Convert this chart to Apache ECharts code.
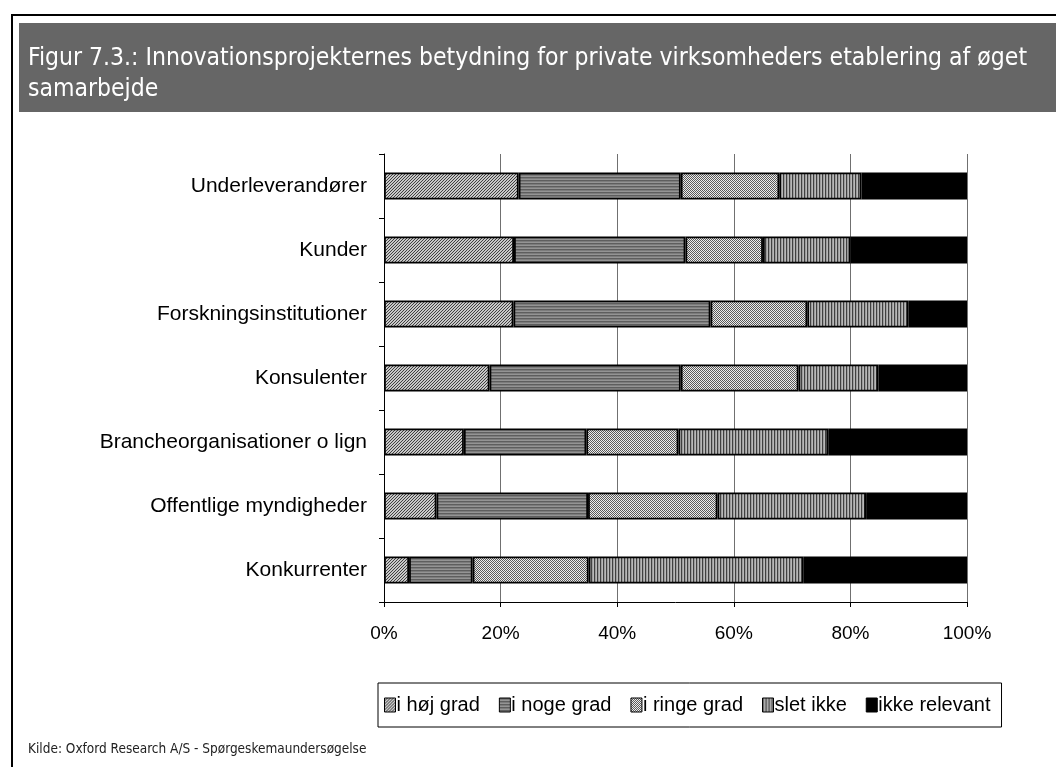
<!DOCTYPE html>
<html>
<head>
<meta charset="utf-8">
<script src="https://cdn.jsdelivr.net/npm/echarts@6/dist/echarts.min.js"></script>
<style>
html,body{margin:0;padding:0;background:#fff;}
#chart{width:1056px;height:767px;}
</style>
</head>
<body>
<div id="chart"></div>
<script>
// ---- DATA ----
const titleLine1 = 'Figur 7.3.: Innovationsprojekternes betydning for private virksomheders etablering af øget';
const titleLine2 = 'samarbejde';
const sourceText = 'Kilde: Oxford Research A/S - Spørgeskemaundersøgelse';
const categories = ['Underleverandører','Kunder','Forskningsinstitutioner','Konsulenter','Brancheorganisationer o lign','Offentlige myndigheder','Konkurrenter'];
const seriesNames = ['i høj grad','i noge grad','i ringe grad','slet ikke','ikke relevant'];
const hojGrad      = [23.1, 22.3, 22.2, 18.1, 13.7,  9.0,  4.3];
const nogeGrad     = [27.8, 29.4, 33.8, 32.8, 21.0, 26.0, 10.9];
const ringeGrad    = [16.9, 13.3, 16.6, 20.2, 15.8, 22.2, 19.9];
const sletIkke     = [14.1, 15.0, 17.4, 13.7, 25.7, 25.5, 36.9];
const ikkeRelevant = [18.1, 20.0, 10.0, 15.2, 23.8, 17.3, 28.0];
const xTicks = [0, 20, 40, 60, 80, 100];

// ---- PATTERNS ----
function makePattern(w, h, fn) {
  const c = document.createElement('canvas');
  c.width = w; c.height = h;
  const ctx = c.getContext('2d');
  for (let y = 0; y < h; y++) for (let x = 0; x < w; x++) {
    ctx.fillStyle = fn(x, y);
    ctx.fillRect(x, y, 1, 1);
  }
  return { image: c, repeat: 'repeat' };
}
const patHoj = makePattern(3, 3, (x, y) => ((x + y) % 3 === 2) ? '#404040' : '#c8c8c8');
const patNoge = makePattern(1, 3, (x, y) => ['#5e5e5e', '#7c7c7c', '#949494'][y]);
const patRinge = makePattern(2, 2, (x, y) => ((x + y) % 2 === 0) ? '#5a5a5a' : '#ececec');
const patSlet = makePattern(3, 1, (x) => ['#404040', '#9c9c9c', '#b8b8b8'][x]);
const fills = [patHoj, patNoge, patRinge, patSlet, '#000000'];
const values = [hojGrad, nogeGrad, ringeGrad, sletIkke, ikkeRelevant];

const chart = echarts.init(document.getElementById('chart'), null, { renderer: 'canvas' });
const labelFont = '"Liberation Sans", Arial, sans-serif';
const condFont = '"DejaVu Sans Condensed", "Liberation Sans Narrow", "Open Sans", sans-serif';

chart.setOption({
  animation: false,
  backgroundColor: '#ffffff',
  graphic: [
    { type: 'rect', z: -10, shape: { x: 12, y: 15, width: 1100, height: 800 },
      style: { fill: '#ffffff', stroke: '#000000', lineWidth: 2 } },
    { type: 'rect', z: -9, shape: { x: 19, y: 23, width: 1100, height: 89 },
      style: { fill: '#666666' } },
    { type: 'text', left: 28, top: 46, z: 10,
      style: { text: titleLine1, fill: '#ffffff', font: '24.5px ' + condFont } },
    { type: 'text', left: 28, top: 77, z: 10,
      style: { text: titleLine2, fill: '#ffffff', font: '24.5px ' + condFont } },
    { type: 'text', left: 28, top: 742, z: 10,
      style: { text: sourceText, fill: '#222222', font: '13.5px ' + condFont } }
  ],
  grid: { left: 384, top: 154, width: 583, height: 448, containLabel: false },
  legend: {
    data: seriesNames,
    left: 378, top: 683,
    orient: 'horizontal',
    icon: 'rect',
    itemWidth: 11, itemHeight: 14, itemGap: 19,
    padding: [12, 11, 12, 6],
    borderColor: '#000', borderWidth: 1,
    textStyle: { fontFamily: labelFont, fontSize: 20, color: '#000', padding: [0, 0, 0, -4] },
    itemStyle: { borderColor: '#000', borderWidth: 1 },
    selectedMode: false
  },
  xAxis: {
    type: 'value', min: 0, max: 100, interval: 20,
    axisLine: { show: true, lineStyle: { color: '#000', width: 1 } },
    axisTick: { show: true, length: 5, lineStyle: { color: '#000' } },
    axisLabel: { formatter: v => xTicks.includes(v) ? v + '%' : '', fontFamily: labelFont, fontSize: 19, color: '#000', margin: 22 },
    splitLine: { show: true, lineStyle: { color: '#707070', width: 1 } }
  },
  yAxis: {
    type: 'category', data: categories, inverse: true,
    axisLine: { show: true, lineStyle: { color: '#000', width: 1 } },
    axisTick: { show: true, length: 5, lineStyle: { color: '#000' } },
    axisLabel: { fontFamily: labelFont, fontSize: 21, color: '#000', margin: 17 }
  },
  series: seriesNames.map((name, i) => ({
    name: name, type: 'bar', stack: 'total', barWidth: 27,
    data: values[i],
    itemStyle: { color: fills[i], borderColor: '#000', borderWidth: 1.8 },
    emphasis: { disabled: true }
  }))
});
</script>
</body>
</html>
